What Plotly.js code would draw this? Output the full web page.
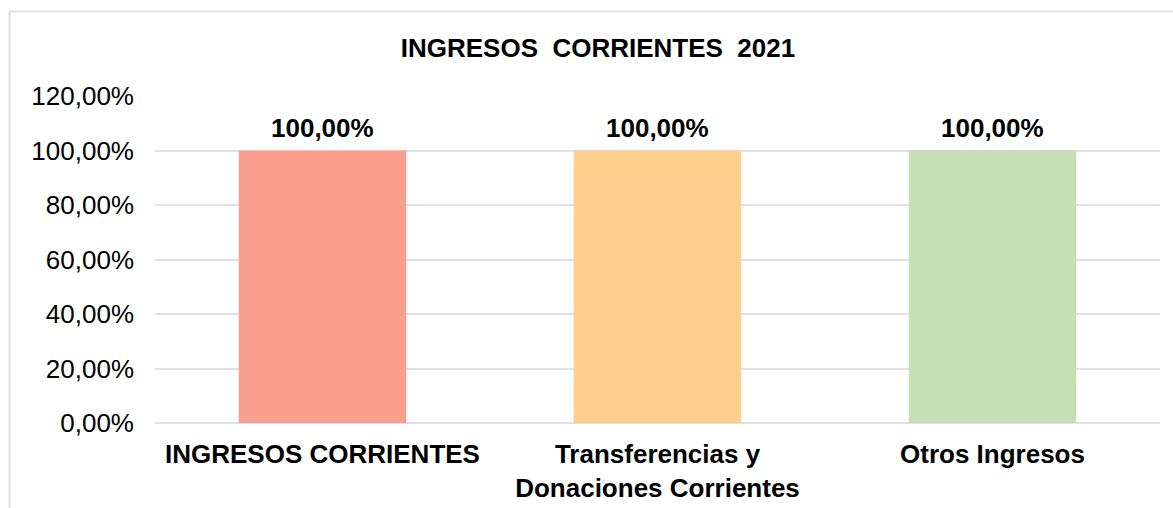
<!DOCTYPE html>
<html>
<head>
<meta charset="utf-8">
<script src="https://cdn.plot.ly/plotly-3.0.1.min.js"></script>
<style>html,body{margin:0;padding:0;background:#fff;}#chart{width:1173px;height:508px;}</style>
</head>
<body>
<div id="chart"></div>
<script>
const categories = ["INGRESOS CORRIENTES", "Transferencias y<br>Donaciones Corrientes", "Otros Ingresos"];
const values = [1.0, 1.0, 1.0];
const valueLabels = ["100,00%", "100,00%", "100,00%"];
const barColors = ["#FA9F8D", "#FECF8C", "#C5E0B4"];
const tickValues = [0, 0.2, 0.4, 0.6, 0.8, 1.0, 1.2];
const tickLabels = ["0,00%", "20,00%", "40,00%", "60,00%", "80,00%", "100,00%", "120,00%"];
const chartTitle = "INGRESOS  CORRIENTES  2021";

const font = "Liberation Sans, Arial, sans-serif";

const trace = {
  type: "bar",
  x: categories,
  y: values,
  marker: {color: barColors, line: {width: 0}},
  hoverinfo: "none"
};

const annotations = categories.map((c, i) => ({
  x: c, y: values[i], xref: "x", yref: "y",
  text: "<b>" + valueLabels[i] + "</b>",
  showarrow: false,
  xanchor: "center", yanchor: "bottom",
  yshift: 6,
  font: {family: font, size: 26, color: "#000"}
}));

const layout = {
  width: 1173,
  height: 508,
  margin: {l: 155, r: 13, t: 96, b: 85},
  paper_bgcolor: "#fff",
  plot_bgcolor: "#fff",
  showlegend: false,
  bargap: 0.5,
  title: {
    text: "<b>" + chartTitle + "</b>",
    font: {family: font, size: 26, color: "#000"},
    x: 598 / 1173, xref: "container", xanchor: "center",
    y: 1 - 48 / 508, yref: "container", yanchor: "middle"
  },
  xaxis: {
    type: "category",
    tickfont: {family: font, size: 26, color: "#000", weight: "bold"},
    tickvals: categories,
    ticktext: categories.map(c => c.split("<br>").map(s => "<b>" + s + "</b>").join("<br>")),
    showgrid: false,
    showline: false,
    zeroline: false,
    ticks: "",
    ticklabelstandoff: 13,
    automargin: false
  },
  yaxis: {
    range: [0, 1.2],
    tickvals: tickValues,
    ticktext: tickLabels,
    tickfont: {family: font, size: 26, color: "#000"},
    showgrid: true,
    gridcolor: "#DDE2E9",
    gridwidth: 2,
    zeroline: true,
    zerolinecolor: "#DDE2E9",
    zerolinewidth: 2,
    showline: false,
    ticks: "",
    ticklabelstandoff: 20,
    automargin: false
  },
  annotations: annotations,
  shapes: [{
    type: "rect",
    xref: "paper", yref: "paper",
    x0: (9.5 - 155) / 1005, x1: 1.06,
    y0: -0.35, y1: (423 - 11.5) / 327,
    line: {color: "#DEE2E8", width: 2},
    fillcolor: "rgba(0,0,0,0)",
    layer: "below"
  }]
};

Plotly.newPlot("chart", [trace], layout, {displayModeBar: false, staticPlot: true});
</script>
</body>
</html>
